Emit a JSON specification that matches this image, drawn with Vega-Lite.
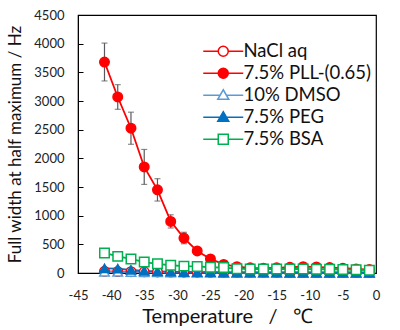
{
  "$schema": "https://vega.github.io/schema/vega-lite/v6.json",
  "width": 298,
  "height": 258,
  "padding": {"left": 6, "top": 9, "right": 22, "bottom": 5},
  "config": {
    "font": "Lato",
    "view": {"stroke": "#000", "strokeWidth": 1.2},
    "axis": {"grid": false, "labelColor": "#222", "titleColor": "#111", "domainColor": "#000", "tickColor": "#000", "labelFont": "Lato", "titleFont": "Lato", "titleFontWeight": "normal"}
  },
  "datasets": {
    "rows": [
      {"s": "NaCl aq", "t": -41, "v": 30}, {"s": "NaCl aq", "t": -39, "v": 25}, {"s": "NaCl aq", "t": -37, "v": 22}, {"s": "NaCl aq", "t": -35, "v": 20}, {"s": "NaCl aq", "t": -33, "v": 18}, {"s": "NaCl aq", "t": -31, "v": 16}, {"s": "NaCl aq", "t": -29, "v": 15}, {"s": "NaCl aq", "t": -27, "v": 14}, {"s": "NaCl aq", "t": -25, "v": 13}, {"s": "NaCl aq", "t": -23, "v": 12}, {"s": "NaCl aq", "t": -21, "v": 12}, {"s": "NaCl aq", "t": -19, "v": 11}, {"s": "NaCl aq", "t": -17, "v": 11}, {"s": "NaCl aq", "t": -15, "v": 10}, {"s": "NaCl aq", "t": -13, "v": 10}, {"s": "NaCl aq", "t": -11, "v": 10}, {"s": "NaCl aq", "t": -9, "v": 10}, {"s": "NaCl aq", "t": -7, "v": 9}, {"s": "NaCl aq", "t": -5, "v": 9}, {"s": "NaCl aq", "t": -3, "v": 9}, {"s": "NaCl aq", "t": -1, "v": 8},
      {"s": "7.5% PLL-(0.65)", "t": -41, "v": 3680, "lo": 3350, "hi": 4010},
      {"s": "7.5% PLL-(0.65)", "t": -39, "v": 3070, "lo": 2855, "hi": 3285},
      {"s": "7.5% PLL-(0.65)", "t": -37, "v": 2525, "lo": 2245, "hi": 2805},
      {"s": "7.5% PLL-(0.65)", "t": -35, "v": 1850, "lo": 1545, "hi": 2155},
      {"s": "7.5% PLL-(0.65)", "t": -33, "v": 1450, "lo": 1255, "hi": 1645},
      {"s": "7.5% PLL-(0.65)", "t": -31, "v": 900, "lo": 785, "hi": 1015},
      {"s": "7.5% PLL-(0.65)", "t": -29, "v": 610, "lo": 510, "hi": 710},
      {"s": "7.5% PLL-(0.65)", "t": -27, "v": 385, "lo": 345, "hi": 425},
      {"s": "7.5% PLL-(0.65)", "t": -25, "v": 245, "lo": 215, "hi": 275},
      {"s": "7.5% PLL-(0.65)", "t": -23, "v": 150, "lo": 130, "hi": 170},
      {"s": "7.5% PLL-(0.65)", "t": -21, "v": 110, "lo": 95, "hi": 125},
      {"s": "7.5% PLL-(0.65)", "t": -19, "v": 90, "lo": 80, "hi": 100},
      {"s": "7.5% PLL-(0.65)", "t": -17, "v": 85, "lo": 75, "hi": 95},
      {"s": "7.5% PLL-(0.65)", "t": -15, "v": 90, "lo": 80, "hi": 100},
      {"s": "7.5% PLL-(0.65)", "t": -13, "v": 100, "lo": 90, "hi": 110},
      {"s": "7.5% PLL-(0.65)", "t": -11, "v": 110, "lo": 100, "hi": 120},
      {"s": "7.5% PLL-(0.65)", "t": -9, "v": 105, "lo": 95, "hi": 115},
      {"s": "7.5% PLL-(0.65)", "t": -7, "v": 95, "lo": 85, "hi": 105},
      {"s": "7.5% PLL-(0.65)", "t": -5, "v": 85, "lo": 75, "hi": 95},
      {"s": "7.5% PLL-(0.65)", "t": -3, "v": 70, "lo": 60, "hi": 80},
      {"s": "7.5% PLL-(0.65)", "t": -1, "v": 60, "lo": 50, "hi": 70},
      {"s": "10% DMSO", "t": -41, "v": 20}, {"s": "10% DMSO", "t": -39, "v": 18}, {"s": "10% DMSO", "t": -37, "v": 15}, {"s": "10% DMSO", "t": -35, "v": 12}, {"s": "10% DMSO", "t": -33, "v": 10}, {"s": "10% DMSO", "t": -31, "v": 8}, {"s": "10% DMSO", "t": -29, "v": 6}, {"s": "10% DMSO", "t": -27, "v": 5}, {"s": "10% DMSO", "t": -25, "v": 5}, {"s": "10% DMSO", "t": -23, "v": 4}, {"s": "10% DMSO", "t": -21, "v": 4}, {"s": "10% DMSO", "t": -19, "v": 4}, {"s": "10% DMSO", "t": -17, "v": 3}, {"s": "10% DMSO", "t": -15, "v": 3}, {"s": "10% DMSO", "t": -13, "v": 3}, {"s": "10% DMSO", "t": -11, "v": 3}, {"s": "10% DMSO", "t": -9, "v": 3}, {"s": "10% DMSO", "t": -7, "v": 3}, {"s": "10% DMSO", "t": -5, "v": 3}, {"s": "10% DMSO", "t": -3, "v": 3}, {"s": "10% DMSO", "t": -1, "v": 3},
      {"s": "7.5% PEG", "t": -41, "v": 80}, {"s": "7.5% PEG", "t": -39, "v": 75}, {"s": "7.5% PEG", "t": -37, "v": 55}, {"s": "7.5% PEG", "t": -35, "v": 38}, {"s": "7.5% PEG", "t": -33, "v": 30}, {"s": "7.5% PEG", "t": -31, "v": 22}, {"s": "7.5% PEG", "t": -29, "v": 16}, {"s": "7.5% PEG", "t": -27, "v": 12}, {"s": "7.5% PEG", "t": -25, "v": 10}, {"s": "7.5% PEG", "t": -23, "v": 8}, {"s": "7.5% PEG", "t": -21, "v": 6}, {"s": "7.5% PEG", "t": -19, "v": 5}, {"s": "7.5% PEG", "t": -17, "v": 5}, {"s": "7.5% PEG", "t": -15, "v": 5}, {"s": "7.5% PEG", "t": -13, "v": 4}, {"s": "7.5% PEG", "t": -11, "v": 4}, {"s": "7.5% PEG", "t": -9, "v": 4}, {"s": "7.5% PEG", "t": -7, "v": 4}, {"s": "7.5% PEG", "t": -5, "v": 4}, {"s": "7.5% PEG", "t": -3, "v": 4}, {"s": "7.5% PEG", "t": -1, "v": 4},
      {"s": "7.5% BSA", "t": -41, "v": 350}, {"s": "7.5% BSA", "t": -39, "v": 290}, {"s": "7.5% BSA", "t": -37, "v": 245}, {"s": "7.5% BSA", "t": -35, "v": 190}, {"s": "7.5% BSA", "t": -33, "v": 160}, {"s": "7.5% BSA", "t": -31, "v": 135}, {"s": "7.5% BSA", "t": -29, "v": 120}, {"s": "7.5% BSA", "t": -27, "v": 115}, {"s": "7.5% BSA", "t": -25, "v": 100}, {"s": "7.5% BSA", "t": -23, "v": 95}, {"s": "7.5% BSA", "t": -21, "v": 75}, {"s": "7.5% BSA", "t": -19, "v": 70}, {"s": "7.5% BSA", "t": -17, "v": 70}, {"s": "7.5% BSA", "t": -15, "v": 70}, {"s": "7.5% BSA", "t": -13, "v": 70}, {"s": "7.5% BSA", "t": -11, "v": 70}, {"s": "7.5% BSA", "t": -9, "v": 65}, {"s": "7.5% BSA", "t": -7, "v": 65}, {"s": "7.5% BSA", "t": -5, "v": 60}, {"s": "7.5% BSA", "t": -3, "v": 55}, {"s": "7.5% BSA", "t": -1, "v": 50}
    ]
  },
  "data": {"name": "rows"},
  "encoding": {
    "x": {"field": "t", "type": "quantitative", "scale": {"domain": [-45, 0], "nice": false, "zero": false},
      "axis": {"title": "Temperature\u00a0\u00a0\u00a0/\u00a0\u00a0\u00a0℃", "values": [-45, -40, -35, -30, -25, -20, -15, -10, -5, 0], "labelExpr": "'' + datum.value", "ticks": false, "domain": false, "labelFontSize": 13, "labelPadding": 16, "labelOverlap": false, "titleFontSize": 20, "titlePadding": 4, "labelFlush": false}}
  },
  "resolve": {"scale": {"shape": "independent", "fill": "independent", "stroke": "independent"}},
  "layer": [
    {
      "transform": [{"filter": "datum.s == '7.5% PLL-(0.65)'"}],
      "mark": {"type": "rule", "color": "#595959", "strokeWidth": 1.2},
      "encoding": {
        "y": {"field": "lo", "type": "quantitative", "scale": {"domain": [0, 4500], "nice": false},
          "axis": {"title": "Full width at half maximum / Hz", "values": [0, 500, 1000, 1500, 2000, 2500, 3000, 3500, 4000, 4500], "tickCount": 10, "labelOverlap": false, "format": "d", "tickSize": -5, "labelFontSize": 13, "labelPadding": 19, "titleFontSize": 17, "titlePadding": 9}},
        "y2": {"field": "hi"}}
    },
    {
      "transform": [{"filter": "datum.s == '7.5% PLL-(0.65)'"}],
      "mark": {"type": "tick", "color": "#595959", "size": 6, "thickness": 1.2, "orient": "horizontal"},
      "encoding": {"y": {"field": "lo", "type": "quantitative", "scale": {"domain": [0, 4500], "nice": false},
          "axis": {"title": "Full width at half maximum / Hz", "values": [0, 500, 1000, 1500, 2000, 2500, 3000, 3500, 4000, 4500], "tickCount": 10, "labelOverlap": false, "format": "d", "tickSize": -5, "labelFontSize": 13, "labelPadding": 19, "titleFontSize": 17, "titlePadding": 9}}}
    },
    {
      "transform": [{"filter": "datum.s == '7.5% PLL-(0.65)'"}],
      "mark": {"type": "tick", "color": "#595959", "size": 6, "thickness": 1.2, "orient": "horizontal"},
      "encoding": {"y": {"field": "hi", "type": "quantitative", "scale": {"domain": [0, 4500], "nice": false},
          "axis": {"title": "Full width at half maximum / Hz", "values": [0, 500, 1000, 1500, 2000, 2500, 3000, 3500, 4000, 4500], "tickCount": 10, "labelOverlap": false, "format": "d", "tickSize": -5, "labelFontSize": 13, "labelPadding": 19, "titleFontSize": 17, "titlePadding": 9}}}
    },
    {
      "mark": {"type": "line", "strokeWidth": 1.8},
      "encoding": {
        "y": {"field": "v", "type": "quantitative", "scale": {"domain": [0, 4500], "nice": false},
          "axis": {"title": "Full width at half maximum / Hz", "values": [0, 500, 1000, 1500, 2000, 2500, 3000, 3500, 4000, 4500], "tickCount": 10, "labelOverlap": false, "format": "d", "tickSize": -5, "labelFontSize": 13, "labelPadding": 19, "titleFontSize": 17, "titlePadding": 9}},
        "detail": {"field": "s"},
        "stroke": {"field": "s", "type": "nominal", "legend": null,
          "scale": {"domain": ["NaCl aq", "7.5% PLL-(0.65)", "10% DMSO", "7.5% PEG", "7.5% BSA"], "range": ["#ff0000", "#ff0000", "#5b9bd5", "#0070c0", "#00b050"]}}
      }
    },
    {
      "mark": {"type": "point", "filled": false, "strokeWidth": 1.5, "opacity": 1},
      "encoding": {
        "y": {"field": "v", "type": "quantitative", "scale": {"domain": [0, 4500], "nice": false},
          "axis": {"title": "Full width at half maximum / Hz", "values": [0, 500, 1000, 1500, 2000, 2500, 3000, 3500, 4000, 4500], "tickCount": 10, "labelOverlap": false, "format": "d", "tickSize": -5, "labelFontSize": 13, "labelPadding": 19, "titleFontSize": 17, "titlePadding": 9}},
        "shape": {"field": "s", "type": "nominal", "legend": null,
          "scale": {"domain": ["NaCl aq", "7.5% PLL-(0.65)", "10% DMSO", "7.5% PEG", "7.5% BSA"], "range": ["circle", "circle", "triangle-up", "triangle-up", "square"]}},
        "fill": {"field": "s", "type": "nominal", "legend": null,
          "scale": {"domain": ["NaCl aq", "7.5% PLL-(0.65)", "10% DMSO", "7.5% PEG", "7.5% BSA"], "range": ["#ffffff", "#ff0000", "#ffffff", "#0070c0", "#ffffff"]}},
        "stroke": {"field": "s", "type": "nominal", "legend": null,
          "scale": {"domain": ["NaCl aq", "7.5% PLL-(0.65)", "10% DMSO", "7.5% PEG", "7.5% BSA"], "range": ["#ff0000", "#ff0000", "#5b9bd5", "#0070c0", "#00b050"]}},
        "size": {"value": 90}
      }
    },
    {
      "transform": [{"filter": "false"}],
      "mark": {"type": "point", "filled": false, "strokeWidth": 1.5, "opacity": 1},
      "encoding": {
        "y": {"field": "v", "type": "quantitative", "scale": {"domain": [0, 4500], "nice": false},
          "axis": {"title": "Full width at half maximum / Hz", "values": [0, 500, 1000, 1500, 2000, 2500, 3000, 3500, 4000, 4500], "tickCount": 10, "labelOverlap": false, "format": "d", "tickSize": -5, "labelFontSize": 13, "labelPadding": 19, "titleFontSize": 17, "titlePadding": 9}},
        "shape": {"field": "s", "type": "nominal",
          "scale": {"domain": ["NaCl aq", "7.5% PLL-(0.65)", "10% DMSO", "7.5% PEG", "7.5% BSA"], "range": ["M-4,0H-1M1,0H4M-1,0A1,1 0 1,1 1,0A1,1 0 1,1 -1,0Z", "M-4,0H-1M1,0H4M-1,0A1,1 0 1,1 1,0A1,1 0 1,1 -1,0Z", "M-4,0H-0.64M0.64,0H4M0,-1.1L1.1,0.8L-1.1,0.8Z", "M-4,0H-0.64M0.64,0H4M0,-1.1L1.1,0.8L-1.1,0.8Z", "M-4,0H-1M1,0H4M-1,-1H1V1H-1Z"]},
          "legend": {"title": null, "orient": "none", "legendX": 136, "legendY": 27, "padding": 0, "symbolOffset": 0, "symbolSize": 100, "symbolStrokeWidth": 1.5, "labelFontSize": 18.5, "labelFont": "Lato", "labelColor": "#111", "labelOffset": 11, "rowPadding": 3}},
        "fill": {"field": "s", "type": "nominal",
          "scale": {"domain": ["NaCl aq", "7.5% PLL-(0.65)", "10% DMSO", "7.5% PEG", "7.5% BSA"], "range": ["#ffffff", "#ff0000", "#ffffff", "#0070c0", "#ffffff"]},
          "legend": {"title": null, "orient": "none", "legendX": 136, "legendY": 27, "padding": 0, "symbolOffset": 0, "symbolSize": 100, "symbolStrokeWidth": 1.5, "labelFontSize": 18.5, "labelFont": "Lato", "labelColor": "#111", "labelOffset": 11, "rowPadding": 3}},
        "stroke": {"field": "s", "type": "nominal",
          "scale": {"domain": ["NaCl aq", "7.5% PLL-(0.65)", "10% DMSO", "7.5% PEG", "7.5% BSA"], "range": ["#ff0000", "#ff0000", "#5b9bd5", "#0070c0", "#00b050"]},
          "legend": {"title": null, "orient": "none", "legendX": 136, "legendY": 27, "padding": 0, "symbolOffset": 0, "symbolSize": 100, "symbolStrokeWidth": 1.5, "labelFontSize": 18.5, "labelFont": "Lato", "labelColor": "#111", "labelOffset": 11, "rowPadding": 3}},
        "size": {"value": 90}
      }
    }
  ]
}
